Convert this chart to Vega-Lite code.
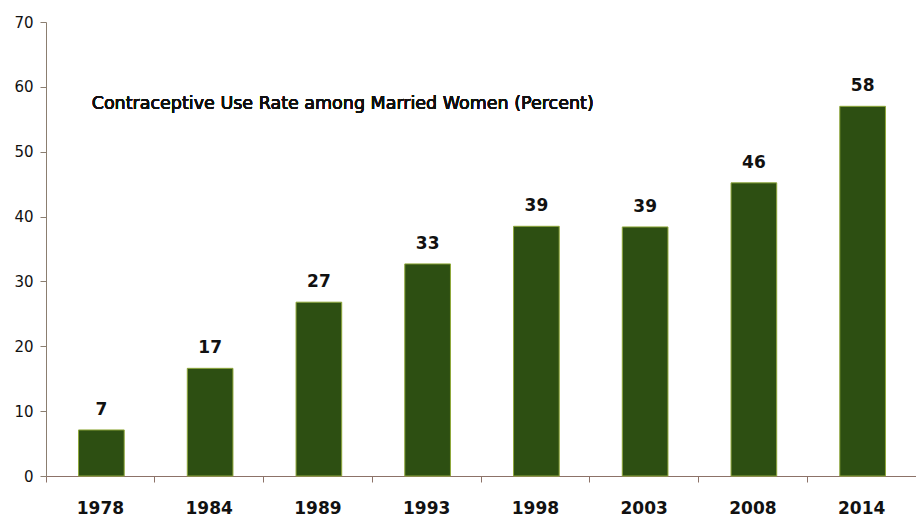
{
  "$schema": "https://vega.github.io/schema/vega-lite/v6.json",
  "width": 870,
  "height": 454,
  "autosize": "none",
  "padding": {"left": 46, "top": 22, "right": 0, "bottom": 42},
  "background": "white",
  "config": {"view": {"stroke": null}, "font": "DejaVu Sans"},
  "data": {
    "values": [
      {"year": "1978", "rate": 7.1, "label": "7"},
      {"year": "1984", "rate": 16.6, "label": "17"},
      {"year": "1989", "rate": 26.8, "label": "27"},
      {"year": "1993", "rate": 32.7, "label": "33"},
      {"year": "1998", "rate": 38.5, "label": "39"},
      {"year": "2003", "rate": 38.4, "label": "39"},
      {"year": "2008", "rate": 45.2, "label": "46"},
      {"year": "2014", "rate": 57.0, "label": "58"}
    ]
  },
  "encoding": {
    "x": {
      "field": "year", "type": "nominal", "sort": null,
      "scale": {"paddingInner": 0, "paddingOuter": 0},
      "axis": {
        "title": null, "labelAngle": 0, "bandPosition": 0,
        "domainColor": "#8c7268", "tickColor": "#8c7268", "tickSize": 6,
        "labelFont": "DejaVu Sans", "labelFontWeight": "bold", "labelFontSize": 17,
        "labelColor": "#111111", "labelPadding": 18, "labelAlign": "center"
      }
    },
    "y": {
      "field": "rate", "type": "quantitative",
      "scale": {"domain": [0, 70], "nice": false},
      "axis": {
        "title": null, "values": [0, 10, 20, 30, 40, 50, 60, 70], "grid": false,
        "domainColor": "#8b7e70", "tickColor": "#8b7e70", "tickSize": 6,
        "labelFont": "DejaVu Sans", "labelFontSize": 15, "labelColor": "#111111",
        "labelPadding": 7
      }
    }
  },
  "layer": [
    {
      "mark": {"type": "bar", "width": {"band": 0.42}, "color": "#2d4f12", "stroke": "#8fa83a", "strokeWidth": 1, "xOffset": 1}
    },
    {
      "mark": {"type": "text", "font": "DejaVu Sans", "fontWeight": "bold", "fontSize": 17, "color": "#111111", "baseline": "alphabetic", "dy": -15, "xOffset": 1},
      "encoding": {"text": {"field": "label"}}
    },
    {
      "mark": {"type": "text", "font": "DejaVu Sans", "fontSize": 17.5, "color": "#111111", "align": "left", "baseline": "middle"},
      "encoding": {
        "x": {"datum": "1978", "bandPosition": 0.42},
        "y": {"datum": 57.3},
        "text": {"value": "Contraceptive Use Rate among Married Women (Percent)"}
      }
    }
  ]
}
